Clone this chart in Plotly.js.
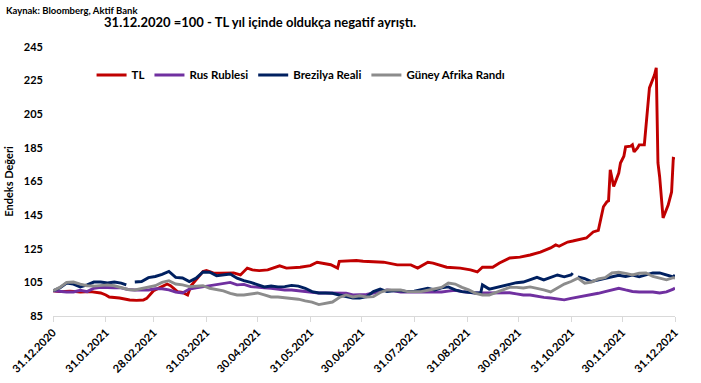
<!DOCTYPE html>
<html>
<head>
<meta charset="utf-8">
<script src="https://cdn.plot.ly/plotly-3.0.1.min.js"></script>
<style>html,body{margin:0;padding:0;background:#fff}#chart{width:701px;height:383px}</style>
</head>
<body>
<div id="chart"></div>
<script>
// ---- data ----
const tlDates = ["2020-12-31","2021-01-04","2021-01-10","2021-01-16","2021-01-22","2021-01-28","2021-01-31","2021-02-02","2021-02-08","2021-02-14","2021-02-18","2021-02-22","2021-02-24","2021-02-26","2021-02-28","2021-03-04","2021-03-08","2021-03-10","2021-03-14","2021-03-17","2021-03-20","2021-03-22","2021-03-25","2021-03-29","2021-03-31","2021-04-04","2021-04-08","2021-04-16","2021-04-20","2021-04-24","2021-04-27","2021-05-01","2021-05-06","2021-05-13","2021-05-17","2021-05-25","2021-05-31","2021-06-04","2021-06-12","2021-06-16","2021-06-17","2021-06-22","2021-06-27","2021-07-01","2021-07-13","2021-07-21","2021-07-29","2021-08-02","2021-08-08","2021-08-11","2021-08-19","2021-08-27","2021-09-02","2021-09-06","2021-09-09","2021-09-15","2021-09-19","2021-09-25","2021-10-01","2021-10-07","2021-10-13","2021-10-19","2021-10-22","2021-10-24","2021-10-29","2021-11-01","2021-11-05","2021-11-09","2021-11-13","2021-11-16","2021-11-19","2021-11-21","2021-11-22","2021-11-23","2021-11-25","2021-11-28","2021-11-29","2021-12-01","2021-12-02","2021-12-05","2021-12-06","2021-12-07","2021-12-09","2021-12-10","2021-12-13","2021-12-16","2021-12-19","2021-12-20","2021-12-21","2021-12-22","2021-12-24","2021-12-27","2021-12-29","2021-12-30","2021-12-31"];
const tlValues = [100,99.5,99.8,99.3,99.5,98.7,97.5,96.3,95.7,94.5,94.3,94.5,95.5,97.5,100,102,104,103,99.5,99,97.5,103,106.4,111.5,112,110.6,110.5,110.6,109.4,113.5,112.4,112,112.4,114.8,113.5,114,115,117,115.5,113.5,117.5,117.7,118,117.6,117,115.4,115.4,113.5,117,116.5,114,113.5,112.4,111.2,114,114,116.5,119.5,120,121.3,123,125.5,127.3,126.5,129,129.6,130.5,131.4,135,136,150,152.9,153.5,172,162,170,176,180,185.6,186,186.8,182.6,185,186.8,186.8,220.7,228.5,232.6,176,167.7,143.3,151,158.8,178.8,178.5];

const gridDates = ["2020-12-31","2021-01-04","2021-01-08","2021-01-12","2021-01-16","2021-01-20","2021-01-24","2021-01-28","2021-02-01","2021-02-05","2021-02-09","2021-02-13","2021-02-17","2021-02-21","2021-02-25","2021-03-01","2021-03-05","2021-03-09","2021-03-13","2021-03-17","2021-03-21","2021-03-25","2021-03-29","2021-04-02","2021-04-06","2021-04-10","2021-04-14","2021-04-18","2021-04-22","2021-04-26","2021-04-30","2021-05-04","2021-05-08","2021-05-12","2021-05-16","2021-05-20","2021-05-24","2021-05-28","2021-06-01","2021-06-05","2021-06-09","2021-06-13","2021-06-17","2021-06-21","2021-06-25","2021-06-29","2021-07-03","2021-07-07","2021-07-11","2021-07-15","2021-07-19","2021-07-23","2021-07-27","2021-07-31","2021-08-04","2021-08-08","2021-08-12","2021-08-16","2021-08-20","2021-08-24","2021-08-28","2021-09-01","2021-09-05","2021-09-09","2021-09-13","2021-09-17","2021-09-21","2021-09-25","2021-09-29","2021-10-03","2021-10-07","2021-10-11","2021-10-15","2021-10-19","2021-10-23","2021-10-27","2021-10-31","2021-11-04","2021-11-08","2021-11-12","2021-11-16","2021-11-20","2021-11-24","2021-11-28","2021-12-02","2021-12-06","2021-12-10","2021-12-14","2021-12-18","2021-12-22","2021-12-26","2021-12-30","2021-12-31"];

const rubValues = [100,99.5,99.3,99.3,100.3,99.5,101.5,102,101.7,101.8,101.7,100.8,100.5,100.5,100.5,101.2,101.2,100.5,99.3,98.7,101,101.7,102.3,103,103.8,104.4,105,103.5,103.8,102.5,101.9,101.7,101.5,100.8,100.5,100.5,100,99.5,99,98.7,98.7,98.7,98.7,98.5,97.5,97.5,97.8,98.7,99.5,100.5,100,99.3,99.3,99.3,99.3,99.3,99.3,99.3,99.8,100.3,99.5,98.9,98.7,98.7,98.7,99,99,98.8,98.2,97.5,97.5,96.6,96.1,95.7,95,94.6,95.5,96.2,96.8,97.4,98.5,99.5,100.5,101.5,100.5,99.6,99.3,99.3,99.3,98.7,99.3,101,101.7];

const zarValues = [100,102,105,105.2,104,103,102.8,103.2,103.5,103,102,100.8,100.5,101.2,102,103,105,106,104,103.5,102.5,102.8,103,101.5,100.8,100,98.5,97.5,97.5,98,98.7,97.5,96.3,96.3,96,95.7,95,94,93.3,91.8,92.7,93.3,96,97.5,96.3,97,96.3,96.5,99,100.5,100.5,100.5,99.5,99.3,99.5,100.3,101,102,104.6,104,102,100.5,98.5,97.5,97.5,99,100.5,102,102,101.7,102.3,101.5,100.5,99.3,101.5,104,105.5,107.5,104.5,105.2,107,107.8,110.6,111,110.4,109.4,110.4,110.6,108.5,107.6,106.5,107.8,107.6];

const brlDates = ["2020-12-31","2021-01-04","2021-01-08","2021-01-12","2021-01-16","2021-01-20","2021-01-24","2021-01-28","2021-02-01","2021-02-05","2021-02-09","2021-02-12","2021-02-14","2021-02-17","2021-02-21","2021-02-25","2021-03-01","2021-03-05","2021-03-09","2021-03-13","2021-03-17","2021-03-21","2021-03-25","2021-03-29","2021-04-02","2021-04-06","2021-04-10","2021-04-14","2021-04-18","2021-04-22","2021-04-26","2021-04-30","2021-05-04","2021-05-08","2021-05-12","2021-05-16","2021-05-20","2021-05-24","2021-05-28","2021-06-01","2021-06-05","2021-06-09","2021-06-13","2021-06-17","2021-06-21","2021-06-25","2021-06-29","2021-07-03","2021-07-07","2021-07-11","2021-07-15","2021-07-19","2021-07-23","2021-07-27","2021-07-31","2021-08-04","2021-08-08","2021-08-12","2021-08-16","2021-08-20","2021-08-24","2021-08-28","2021-09-01","2021-09-05","2021-09-08","2021-09-09","2021-09-13","2021-09-17","2021-09-21","2021-09-25","2021-09-29","2021-10-03","2021-10-07","2021-10-11","2021-10-15","2021-10-19","2021-10-23","2021-10-27","2021-10-31","2021-11-01","2021-11-02","2021-11-04","2021-11-08","2021-11-12","2021-11-16","2021-11-20","2021-11-24","2021-11-28","2021-12-02","2021-12-06","2021-12-10","2021-12-14","2021-12-18","2021-12-22","2021-12-26","2021-12-30","2021-12-31"];
const brlValues = [100,101.7,104.6,104,102.3,103.5,105.2,105.2,104.6,105.2,104.6,103.5,null,105.2,105.5,107.8,108.5,109.8,111.5,108,107.6,105.5,107.5,111.2,111,109,109.5,110,107.5,106,105,103.5,102.3,102.8,102.3,102.5,103.2,102.8,101.5,99.5,98.7,98.7,98.5,97.5,96.5,95.7,95.7,96.5,99.5,101,99.5,100,100,99.5,99.7,100.5,101.5,100.5,101.7,102.3,100.5,99.5,98.9,98.7,98.7,103.5,101,102,103.2,104,104.8,105.2,106.4,108,106.5,108,109.4,108.3,109.4,110.5,null,108.2,107.2,105.5,106.4,107.6,108.4,109.2,108.5,109.3,108.3,109.4,110.6,110.6,109.5,108.2,109.4];

const seriesNames = ["TL","Rus Rublesi","Brezilya Reali","Güney Afrika Randı"];
const seriesColors = ["#C00000","#7030A0","#002060","#8C8C8C"];

const tickDates = ["2020-12-31","2021-01-31","2021-02-28","2021-03-31","2021-04-30","2021-05-31","2021-06-30","2021-07-31","2021-08-31","2021-09-30","2021-10-31","2021-11-30","2021-12-31"];
const tickLabels = ["31.12.2020","31.01.2021","28.02.2021","31.03.2021","30.04.2021","31.05.2021","30.06.2021","31.07.2021","31.08.2021","30.09.2021","31.10.2021","30.11.2021","31.12.2021"];
const yTicks = [85,105,125,145,165,185,205,225,245];

const titleText = "31.12.2020 =100 - TL yıl içinde oldukça negatif ayrıştı.";
const sourceText = "Kaynak: Bloomberg, Aktif Bank";
const yTitle = "Endeks Değeri";

// ---- chart ----
const FONT = "Lato, 'Open Sans', sans-serif";
const xs = [tlDates, gridDates, brlDates, gridDates];
const ys = [tlValues, rubValues, brlValues, zarValues];
const traces = seriesNames.map((n, i) => ({
  type: "scatter", mode: "lines", name: n,
  x: xs[i], y: ys[i], connectgaps: false,
  line: {color: seriesColors[i], width: 2.9}
}));

const layout = {
  width: 701, height: 383,
  margin: {l: 53, r: 26, t: 47, b: 67},
  paper_bgcolor: "#fff", plot_bgcolor: "#fff",
  font: {family: FONT, size: 11, color: "#000", weight: 700},
  showlegend: true,
  legend: {
    orientation: "h", x: 0.062, xanchor: "left", y: 0.896, yanchor: "middle",
    font: {family: FONT, size: 11.5, color: "#000", weight: 700},
    bgcolor: "rgba(0,0,0,0)", itemwidth: 30, traceorder: "normal"
  },
  title: {
    text: titleText, x: 0.333, xanchor: "center", xref: "paper", y: 0.941, yanchor: "middle", yref: "container",
    font: {family: FONT, size: 13, color: "#000", weight: 700}
  },
  xaxis: {
    type: "date", range: ["2020-12-31", "2021-12-31"],
    tickmode: "array", tickvals: tickDates, ticktext: tickLabels, tickangle: -45,
    showgrid: false, zeroline: false,
    showline: true, linecolor: "#D9D9D9", linewidth: 1,
    ticks: "outside", ticklen: 5, tickcolor: "#D9D9D9",
    tickfont: {family: FONT, size: 11, color: "#000", weight: 700}
  },
  yaxis: {
    range: [85, 245], tickmode: "array", tickvals: yTicks,
    showgrid: false, zeroline: false, showline: false, ticks: "",
    ticklabelstandoff: 9,
    tickfont: {family: FONT, size: 11, color: "#000", weight: 700},
    title: {text: yTitle, standoff: 8, font: {family: FONT, size: 11, color: "#000", weight: 700}}
  },
  annotations: [{
    text: sourceText, xref: "paper", yref: "paper", x: -0.079, y: 1.135, xanchor: "left", yanchor: "middle",
    showarrow: false, font: {family: FONT, size: 9.5, color: "#000", weight: 700}
  }]
};
Plotly.newPlot("chart", traces, layout, {displayModeBar: false, staticPlot: true});
</script>
</body>
</html>
